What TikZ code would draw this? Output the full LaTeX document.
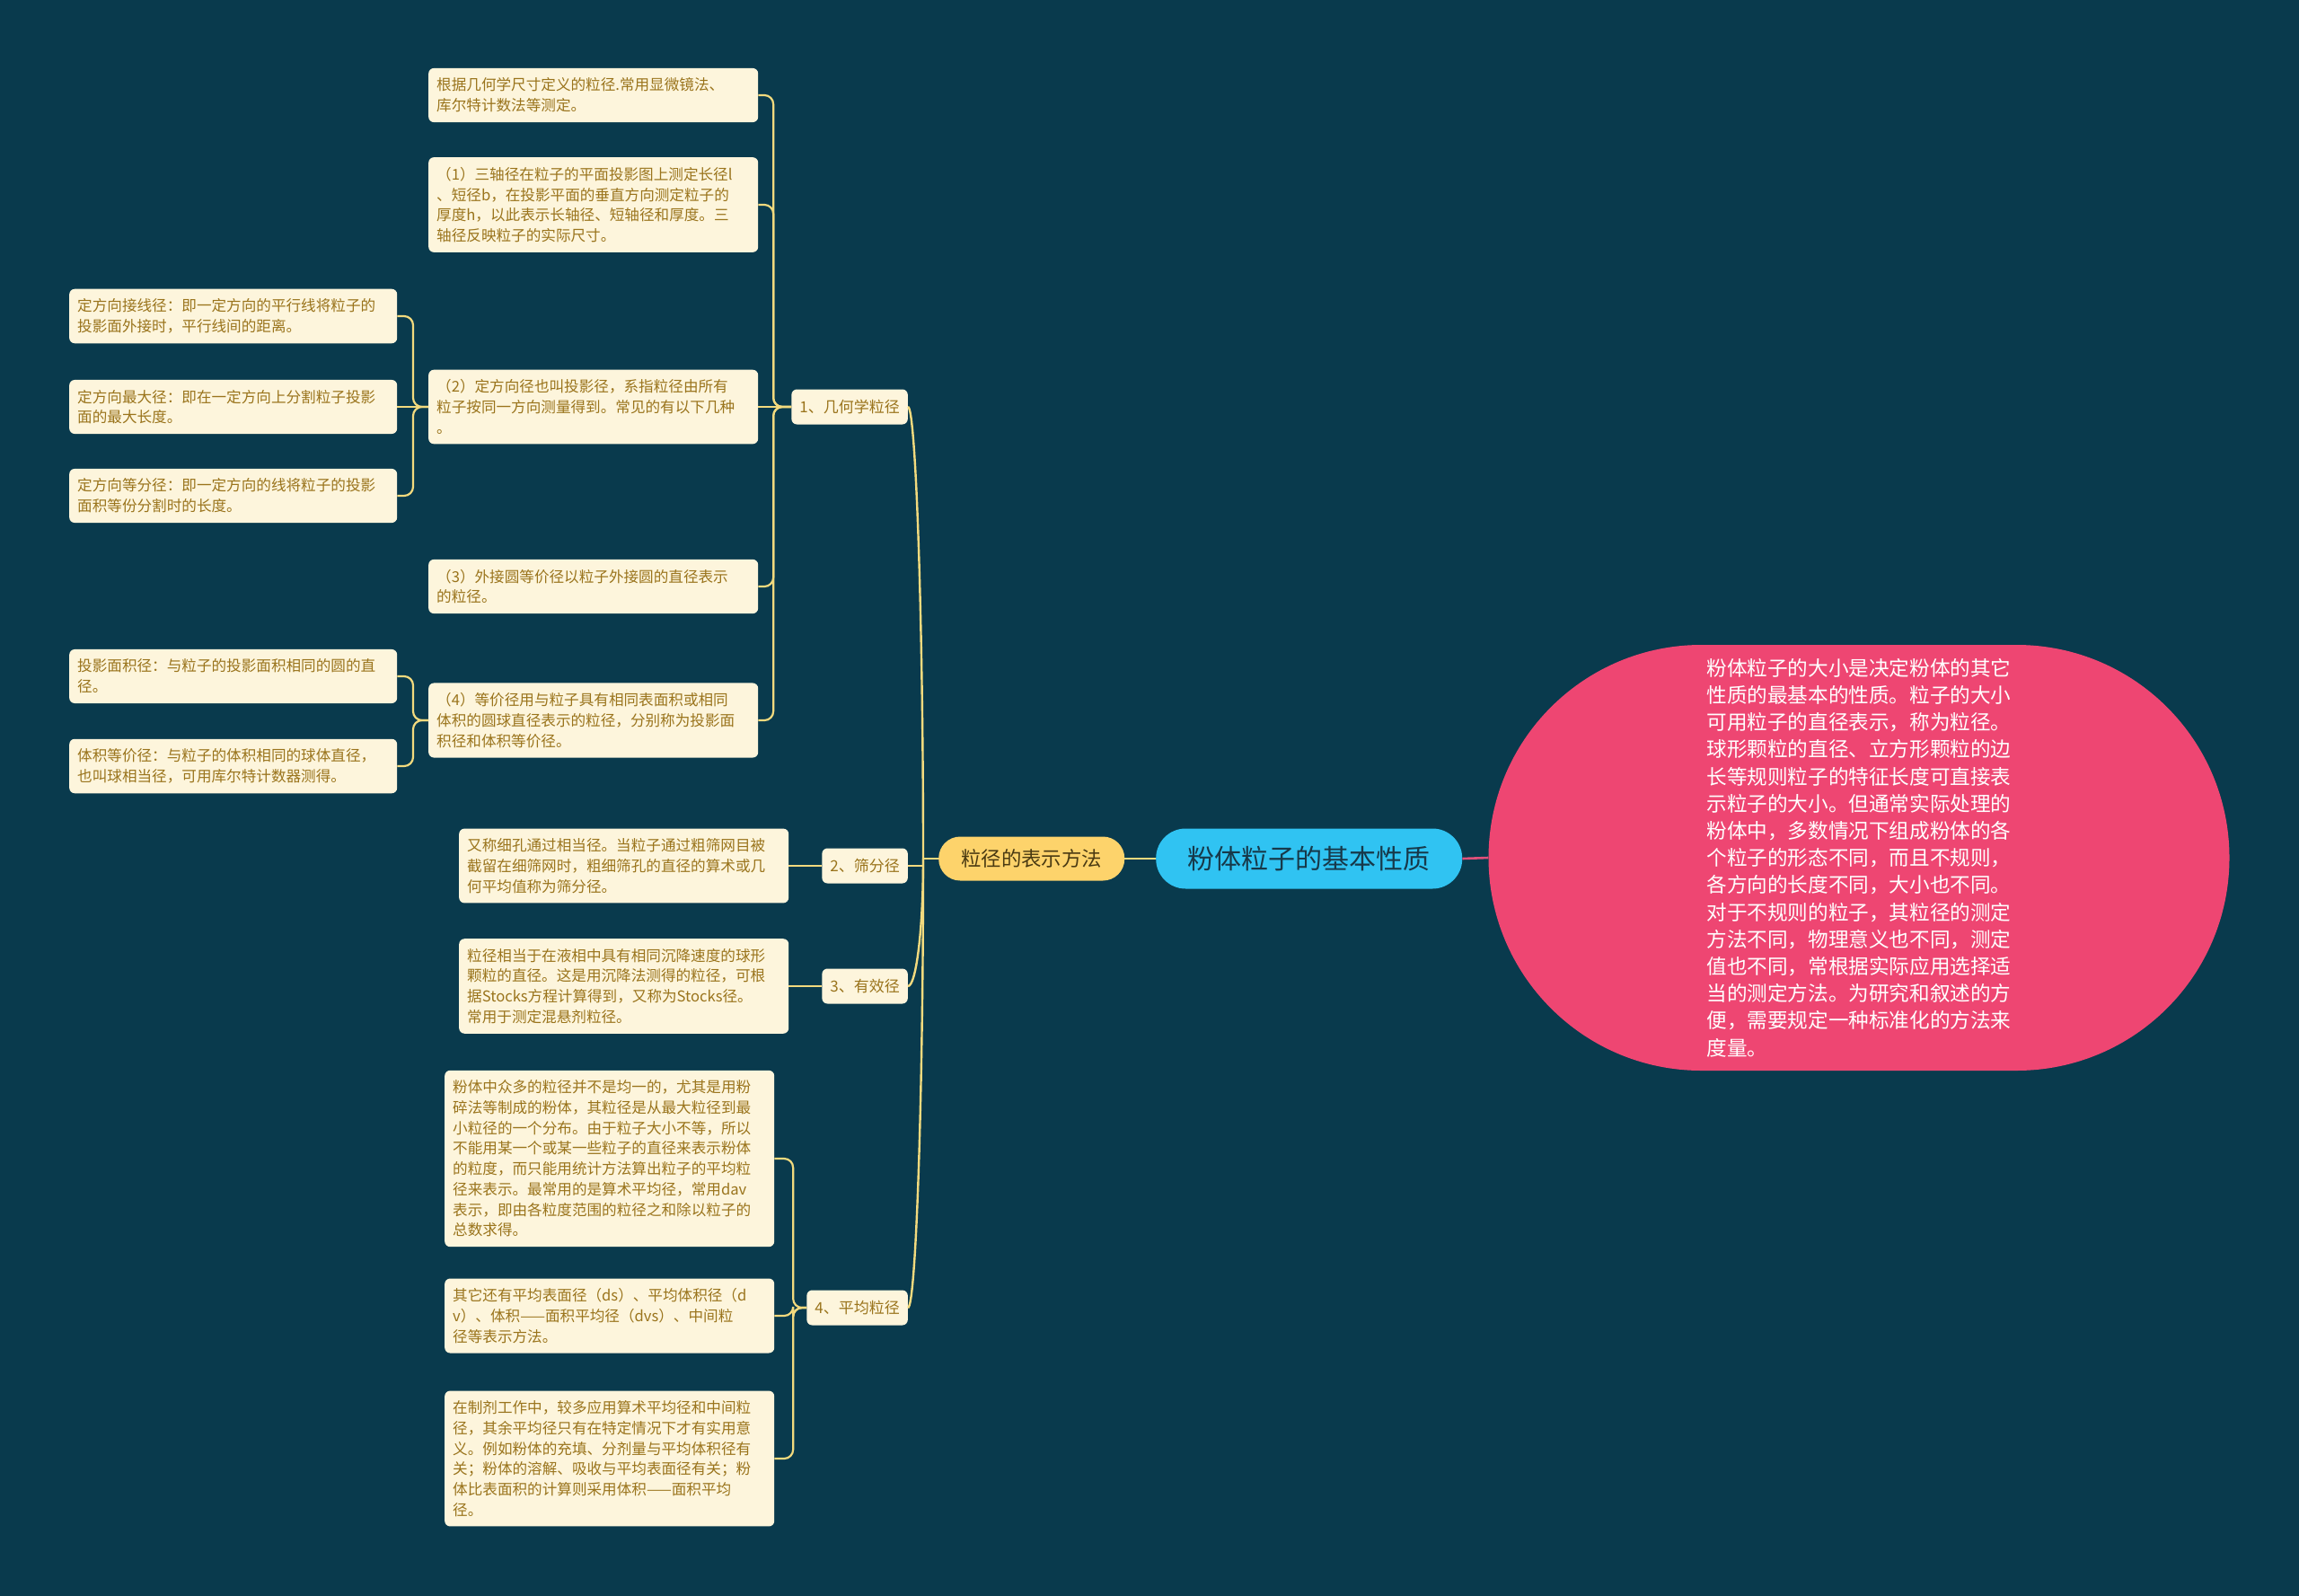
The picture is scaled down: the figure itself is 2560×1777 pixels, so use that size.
\documentclass[tikz,border=0pt]{standalone}
\usepackage{fontspec}
\newfontfamily\cjk{Noto Sans CJK SC}
\definecolor{bg}{HTML}{093A4D}
\definecolor{cream}{HTML}{FDF5DC}
\definecolor{gold}{HTML}{9A741C}
\definecolor{linkc}{HTML}{F2DA7E}
\definecolor{orangefill}{HTML}{FDD36B}
\definecolor{orangetext}{HTML}{4A3A12}
\definecolor{rootblue}{HTML}{30C3F2}
\definecolor{roottext}{HTML}{17394A}
\definecolor{pinkfill}{HTML}{EE4672}
\definecolor{pinkline}{HTML}{E0507A}
\begin{document}
\begin{tikzpicture}[x=1pt,y=-1pt,
  leaf/.style={fill=cream, text=gold, rounded corners=6pt, align=left, text width=349pt,
    inner xsep=9pt, inner ysep=11pt, anchor=west,
    font=\cjk\fontsize{16.6pt}{22.7pt}\selectfont},
  leafs/.style={leaf, text width=347pt},
  cat/.style={fill=cream, text=gold, rounded corners=6pt, inner xsep=9pt, inner ysep=0pt,
    minimum height=39pt, anchor=east, font=\cjk\fontsize{17pt}{20pt}\selectfont},
  link/.style={draw=linkc, line width=2.4pt},
  elbow/.style={draw=linkc, line width=2.2pt, rounded corners=10pt}]
\fill[bg] (0,0) rectangle (2560,1777);
\useasboundingbox (0,0) rectangle (2560,1777);

% central nodes
\node[fill=pinkfill, text=white, rounded corners=237pt, minimum width=825pt, minimum height=474pt,
  align=left, font=\cjk\fontsize{22.6pt}{30.2pt}\selectfont] (pink) at (2070,955)
  {粉体粒子的大小是决定粉体的其它\\性质的最基本的性质。粒子的大小\\可用粒子的直径表示，称为粒径。\\球形颗粒的直径、立方形颗粒的边\\长等规则粒子的特征长度可直接表\\示粒子的大小。但通常实际处理的\\粉体中，多数情况下组成粉体的各\\个粒子的形态不同，而且不规则，\\各方向的长度不同，大小也不同。\\对于不规则的粒子，其粒径的测定\\方法不同，物理意义也不同，测定\\值也不同，常根据实际应用选择适\\当的测定方法。为研究和叙述的方\\便，需要规定一种标准化的方法来\\度量。};
\node[fill=rootblue, text=roottext, rounded corners=33pt, minimum width=341pt, minimum height=67pt,
  anchor=west, font=\cjk\fontsize{30pt}{34pt}\selectfont] (root) at (1287,956) {粉体粒子的基本性质};
\node[fill=orangefill, text=orangetext, rounded corners=24pt, minimum width=207pt, minimum height=49pt,
  anchor=west, font=\cjk\fontsize{22.4pt}{26pt}\selectfont] (o) at (1045,956) {粒径的表示方法};

% categories
\node[cat] (c1) at (1011,453) {1、几何学粒径};
\node[cat] (c2) at (1011,964) {2、筛分径};
\node[cat] (c3) at (1011,1098) {3、有效径};
\node[cat] (c4) at (1011,1456) {4、平均粒径};

% category 1 children
\node[leaf] (A) at (477,106) {根据几何学尺寸定义的粒径.常用显微镜法、\\库尔特计数法等测定。};
\node[leaf] (B) at (477,228) {（1）三轴径在粒子的平面投影图上测定长径l\\、短径b，在投影平面的垂直方向测定粒子的\\厚度h，以此表示长轴径、短轴径和厚度。三\\轴径反映粒子的实际尺寸。};
\node[leaf] (C) at (477,453) {（2）定方向径也叫投影径，系指粒径由所有\\粒子按同一方向测量得到。常见的有以下几种\\。};
\node[leaf] (D) at (477,653) {（3）外接圆等价径以粒子外接圆的直径表示\\的粒径。};
\node[leaf] (E) at (477,802) {（4）等价径用与粒子具有相同表面积或相同\\体积的圆球直径表示的粒径，分别称为投影面\\积径和体积等价径。};

\node[leafs] (C1) at (77,352) {定方向接线径：即一定方向的平行线将粒子的\\投影面外接时，平行线间的距离。};
\node[leafs] (C2) at (77,453) {定方向最大径：即在一定方向上分割粒子投影\\面的最大长度。};
\node[leafs] (C3) at (77,552) {定方向等分径：即一定方向的线将粒子的投影\\面积等份分割时的长度。};
\node[leafs] (E1) at (77,753) {投影面积径：与粒子的投影面积相同的圆的直\\径。};
\node[leafs] (E2) at (77,853) {体积等价径：与粒子的体积相同的球体直径，\\也叫球相当径，可用库尔特计数器测得。};

% category 2, 3 children
\node[leaf] (S) at (511,964) {又称细孔通过相当径。当粒子通过粗筛网目被\\截留在细筛网时，粗细筛孔的直径的算术或几\\何平均值称为筛分径。};
\node[leaf] (Y) at (511,1098) {粒径相当于在液相中具有相同沉降速度的球形\\颗粒的直径。这是用沉降法测得的粒径，可根\\据Stocks方程计算得到，又称为Stocks径。\\常用于测定混悬剂粒径。};

% category 4 children
\node[leaf] (P1) at (495,1290) {粉体中众多的粒径并不是均一的，尤其是用粉\\碎法等制成的粉体，其粒径是从最大粒径到最\\小粒径的一个分布。由于粒子大小不等，所以\\不能用某一个或某一些粒子的直径来表示粉体\\的粒度，而只能用统计方法算出粒子的平均粒\\径来表示。最常用的是算术平均径，常用dav\\表示，即由各粒度范围的粒径之和除以粒子的\\总数求得。};
\node[leaf] (P2) at (495,1465) {其它还有平均表面径（ds）、平均体积径（d\\v）、体积——面积平均径（dvs）、中间粒\\径等表示方法。};
\node[leaf] (P3) at (495,1624) {在制剂工作中，较多应用算术平均径和中间粒\\径，其余平均径只有在特定情况下才有实用意\\义。例如粉体的充填、分剂量与平均体积径有\\关；粉体的溶解、吸收与平均表面径有关；粉\\体比表面积的计算则采用体积——面积平均\\径。};

% main connectors
\draw[draw=pinkline, line width=2.6pt] (root.east) -- (pink.west);
\draw[link] (root.west) -- (o.east |- root.west);

\coordinate (J) at (1028,956);
\draw[link] (o.west) -- (J);
\draw[link] (J) .. controls +(0,-260) and +(9,0) .. (c1.east);
\draw[link] (J) -- (J |- c2.east) -- (c2.east);
\draw[link] (J) .. controls +(0,80) and +(9,0) .. (c3.east);
\draw[link] (J) .. controls +(0,260) and +(9,0) .. (c4.east);

% category 1 elbows
\draw[elbow] (c1.west) -- ++(-20,0) |- (A.east);
\draw[elbow] (c1.west) -- ++(-20,0) |- (B.east);
\draw[elbow] (c1.west) -- (C.east);
\draw[elbow] (c1.west) -- ++(-20,0) |- (D.east);
\draw[elbow] (c1.west) -- ++(-20,0) |- (E.east);

\draw[elbow] (C.west) -- ++(-17,0) |- (C1.east);
\draw[elbow] (C.west) -- (C2.east);
\draw[elbow] (C.west) -- ++(-17,0) |- (C3.east);
\draw[elbow] (E.west) -- ++(-17,0) |- (E1.east);
\draw[elbow] (E.west) -- ++(-17,0) |- (E2.east);

\draw[elbow] (c2.west) -- (S.east);
\draw[elbow] (c3.west) -- (Y.east);

\draw[elbow] (c4.west) -- ++(-15,0) |- (P1.east);
\draw[elbow] (c4.west) -- ++(-15,0) |- (P2.east);
\draw[elbow] (c4.west) -- ++(-15,0) |- (P3.east);
\end{tikzpicture}
\end{document}
